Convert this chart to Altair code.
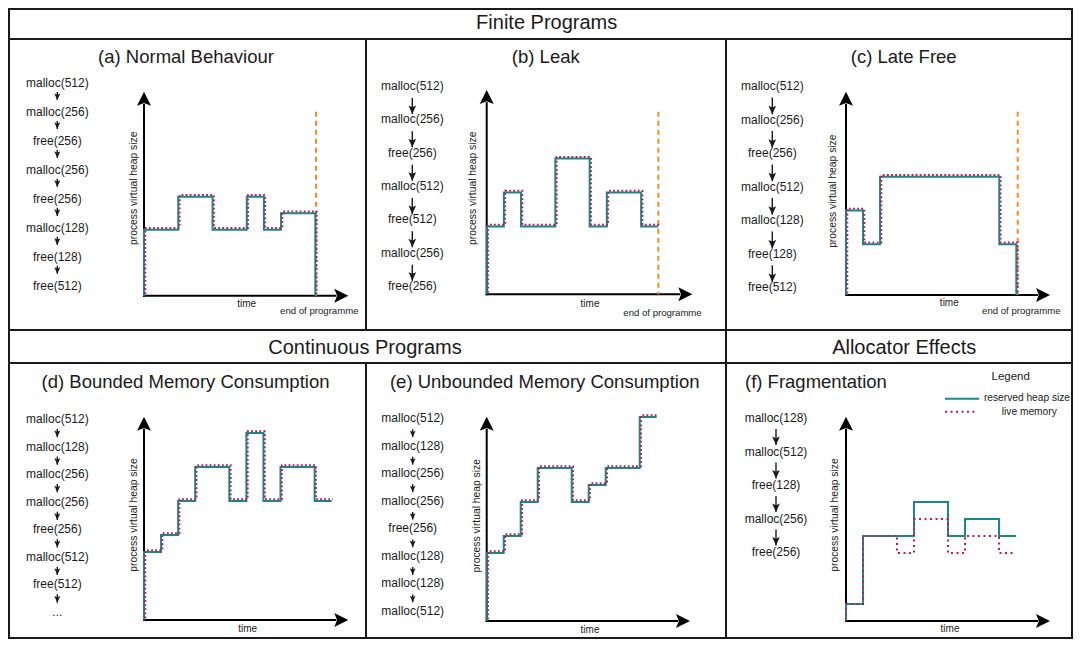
import altair as alt
import pandas as pd

FONT = "Liberation Sans"
INK = "#1a1a1a"
TEAL = "#17898b"
LIVE = "#c0185a"
ORANGE = "#ff8a1c"

# ---------------- data ----------------
header_top = "Finite Programs"
header_cont = "Continuous Programs"
header_alloc = "Allocator Effects"
titles = ["(a) Normal Behaviour", "(b) Leak", "(c) Late Free",
          "(d) Bounded Memory Consumption", "(e) Unbounded Memory Consumption",
          "(f) Fragmentation"]
ylabel_text = "process virtual heap size"
xlabel_text = "time"
end_text = "end of programme"
legend_title = "Legend"
legend_labels = ["reserved heap size", "live memory"]

ops_a = ["malloc(512)", "malloc(256)", "free(256)", "malloc(256)", "free(256)",
         "malloc(128)", "free(128)", "free(512)"]
time_a = [0, 0, 2, 4, 6, 7, 8, 10]
heap_a = [0, 512, 768, 512, 768, 512, 640, 0]

ops_b = ["malloc(512)", "malloc(256)", "free(256)", "malloc(512)", "free(512)",
         "malloc(256)", "free(256)"]
time_b = [0, 0, 1, 2, 4, 6, 7, 9, 10]
heap_b = [0, 512, 768, 512, 1024, 512, 768, 512, 512]

ops_c = ["malloc(512)", "malloc(256)", "free(256)", "malloc(512)", "malloc(128)",
         "free(128)", "free(512)"]
time_c = [0, 0, 1, 2, 9, 10]
heap_c = [0, 640, 384, 896, 384, 0]

ops_d = ["malloc(512)", "malloc(128)", "malloc(256)", "malloc(256)", "free(256)",
         "malloc(512)", "free(512)", "..."]
time_d = [0, 0, 1, 2, 3, 5, 6, 7, 8, 10, 11]
heap_d = [0, 512, 640, 896, 1152, 896, 1408, 896, 1152, 896, 896]

ops_e = ["malloc(512)", "malloc(128)", "malloc(256)", "malloc(256)", "free(256)",
         "malloc(128)", "malloc(128)", "malloc(512)"]
time_e = [0, 0, 1, 2, 3, 5, 6, 7, 9, 10]
heap_e = [0, 512, 640, 896, 1152, 896, 1024, 1152, 1536, 1536]

ops_f = ["malloc(128)", "malloc(512)", "free(128)", "malloc(256)", "free(256)"]
time_f = [0, 0, 1, 4, 6, 7, 9, 10]
reserved_f = [0, 128, 640, 896, 640, 768, 640, 640]
live_time_f = [0, 0, 1, 3, 4, 6, 7, 9, 10]
live_f = [0, 128, 640, 512, 768, 512, 640, 512, 512]

end_of_programme = [10, 10, 10]   # time at which (a), (b), (c) end
heap_max = 1600

# ---------------- shapes ----------------
UP = "M0,0L0.5,1L0,0.8L-0.5,1Z"
RIGHT = "M0,0L-1,-0.5L-0.8,0L-1,0.5Z"
DOWN = "M0,0L-0.45,-1L0,-0.8L0.45,-1Z"


def one():
    return alt.Chart(pd.DataFrame({"k": [0]}))


def label(text, x, y, size, angle=0, align="center", color=INK):
    return alt.Chart(pd.DataFrame({"s": [text]})).mark_text(
        font=FONT, fontSize=size, align=align, baseline="middle", angle=angle,
        color=color).encode(text="s:N", x=alt.value(x), y=alt.value(y))


def oplist(ops, cx, y0, y1, f0, f1, head):
    n = len(ops)
    sc = alt.Scale(domain=[0, n - 1], range=[y0, y1], nice=False, zero=False)
    df = pd.DataFrame({"op": ops, "i": list(range(n))})
    txt = alt.Chart(df).mark_text(font=FONT, fontSize=12, color=INK,
                                  baseline="middle").encode(
        x=alt.value(cx), y=alt.Y("i:Q", scale=sc, axis=None), text="op:N")
    arr = alt.Chart(pd.DataFrame({"i": list(range(n - 1))})).transform_calculate(
        a=f"datum.i + {f0}", b=f"datum.i + {f1}")
    line = arr.mark_rule(color=INK, strokeWidth=1.4).encode(
        x=alt.value(cx), y=alt.Y("a:Q", scale=sc, axis=None), y2="b:Q")
    tip = arr.mark_point(shape=DOWN, filled=True, size=head, color=INK,
                         opacity=1, strokeWidth=0).encode(
        x=alt.value(cx), y=alt.Y("b:Q", scale=sc, axis=None))
    return [txt, line, tip]


def axes(ox, oy, ytip, xtip):
    v = one().mark_rule(color="black", strokeWidth=2).encode(
        x=alt.value(ox), y=alt.value(oy + 1), y2=alt.value(ytip + 12))
    h = one().mark_rule(color="black", strokeWidth=2).encode(
        x=alt.value(ox - 1), x2=alt.value(xtip - 12), y=alt.value(oy))
    up = one().mark_point(shape=UP, filled=True, size=784, color="black",
                          opacity=1, strokeWidth=0).encode(
        x=alt.value(ox), y=alt.value(ytip))
    rt = one().mark_point(shape=RIGHT, filled=True, size=784, color="black",
                          opacity=1, strokeWidth=0).encode(
        x=alt.value(xtip), y=alt.value(oy))
    return [v, h, up, rt]


def steps(times, values, xs, ys, color, dash=None, dx=0.0, dy=0.0):
    df = pd.DataFrame({"t": times, "v": values, "k": list(range(len(times)))})
    mk = dict(interpolate="step-after", color=color, strokeWidth=2,
              xOffset=dx, yOffset=dy)
    if dash:
        mk["strokeDash"] = dash
    return alt.Chart(df).mark_line(**mk).encode(
        x=alt.X("t:Q", scale=xs, axis=None),
        y=alt.Y("v:Q", scale=ys, axis=None),
        order="k:Q")


def scales(tmax, x0, x1, oy, pb):
    xs = alt.Scale(domain=[0, tmax], range=[x0, x1], nice=False, zero=False)
    ys = alt.Scale(domain=[0, heap_max], range=[oy, oy - heap_max * pb],
                   nice=False, zero=False)
    return xs, ys


def panel(g, off):
    X = lambda v: v + off
    layers = [label(g["title"], X(g["tx"]), g["ty"], 18.5, align=g.get("talign", "center"))]
    layers += oplist(g["ops"], X(g["lx"]), g["ly0"], g["ly1"], g["f0"], g["f1"], g["head"])
    layers += axes(X(g["ox"]), g["oy"], g["ytip"], X(g["xtip"]))
    layers.append(label(ylabel_text, X(g["ylx"]), g["yly"], 10.3, angle=270))
    layers.append(label(xlabel_text, X(g["tlx"]), g["tly"], 10))
    xs, ys = scales(g["tmax"], X(g["ox"]), X(g["x1"]), g["oy"], g["pb"])
    if "end" in g:
        orange = alt.Chart(pd.DataFrame({"t": [g["end"]]})).mark_rule(
            color=ORANGE, strokeWidth=2, strokeDash=[5, 4], xOffset=g["eoff"]).encode(
            x=alt.X("t:Q", scale=xs, axis=None), y=alt.value(g["etop"]),
            y2=alt.value(g["oy"]))
        layers.append(orange)
        layers.append(label(end_text, X(g["elx"]), g["ely"], 9.6))
    layers.append(steps(g["t"], g["v"], xs, ys, TEAL))
    layers.append(steps(g.get("lt", g["t"]), g.get("lv", g["v"]), xs, ys, LIVE,
                        dash=g.get("dash", [1.8, 2.3]), dx=g.get("dx", 1.3),
                        dy=g.get("dy", -1.7)))
    for f in g.get("extra", []):
        layers.append(f(off))
    return layers


def divider(x, h):
    return one().mark_rule(color=INK, strokeWidth=2).encode(
        x=alt.value(x), y=alt.value(0), y2=alt.value(h))


W1, W2, W3 = 357, 360, 346
WT = W1 + W2 + W3
H_TOP, H_ROW1, H_MID, H_ROW2 = 30, 291, 33, 275

ga = dict(title=titles[0], tx=177, ty=18.3, ops=ops_a, lx=48.3, ly0=44.3, ly1=247,
          f0=0.3, f1=0.58, head=180, ox=135, oy=256.7, ytip=52.7, xtip=339.3,
          ylx=125, yly=149.3, tlx=237.7, tly=265, tmax=10, x1=306.3, pb=0.129,
          t=time_a, v=heap_a, end=end_of_programme[0], eoff=0.7, etop=72.7,
          elx=310.3, ely=271.7)
gb = dict(title=titles[1], tx=179.8, ty=18, ops=ops_b, lx=46.3, ly0=47, ly1=247,
          f0=0.36, f1=0.84, head=289, ox=120.7, oy=255.3, ytip=51, xtip=326.3,
          ylx=107.3, yly=149.3, tlx=224, tly=265, tmax=10, x1=292.3, pb=0.1325,
          t=time_b, v=heap_b, end=end_of_programme[1], eoff=0, etop=72.7,
          elx=296.5, ely=274.3)
gc = dict(title=titles[2], tx=177.7, ty=18.3, ops=ops_c, lx=46.3, ly0=47, ly1=248.3,
          f0=0.34, f1=0.84, head=289, ox=120, oy=256, ytip=52.7, xtip=324,
          ylx=107.3, yly=152.2, tlx=223.3, tly=264.3, tmax=10, x1=290.3, pb=0.132,
          t=time_c, v=heap_c, end=end_of_programme[2], eoff=1.4, etop=72.7,
          elx=295.3, ely=271.7)
gd = dict(title=titles[3], tx=176.5, ty=18.7, ops=ops_d, lx=48.3, ly0=56, ly1=249,
          f0=0.36, f1=0.66, head=180, ox=135, oy=257, ytip=53.7, xtip=339.3,
          ylx=124.7, yly=152, tlx=238.7, tly=266.3, tmax=11, x1=322.7, pb=0.1328,
          t=time_d, v=heap_d)
ge = dict(title=titles[4], tx=178.7, ty=18.7, ops=ops_e, lx=46.7, ly0=55.3, ly1=248,
          f0=0.4, f1=0.68, head=160, ox=120.7, oy=258, ytip=53.7, xtip=324,
          ylx=110.7, yly=152.8, tlx=224, tly=267, tmax=10, x1=290.7, pb=0.1328,
          t=time_e, v=heap_e)

legend_layers = [
    lambda o: label(legend_title, o + 284.7, 14.3, 11.5),
    lambda o: label(legend_labels[0], o + 344, 35.3, 10.2, align="right"),
    lambda o: label(legend_labels[1], o + 303.3, 48.7, 10.2),
    lambda o: one().mark_rule(color=TEAL, strokeWidth=2).encode(
        x=alt.value(o + 219), x2=alt.value(o + 253), y=alt.value(35.7)),
    lambda o: one().mark_rule(color=LIVE, strokeWidth=2, strokeDash=[2, 3.5]).encode(
        x=alt.value(o + 219), x2=alt.value(o + 252), y=alt.value(48.7)),
]
gf = dict(title=titles[5], tx=19, ty=19.3, talign="left", ops=ops_f, lx=50,
          ly0=55.3, ly1=189.3, f0=0.32, f1=0.8, head=289, ox=120, oy=258,
          ytip=53.7, xtip=324, ylx=109, yly=152, tlx=224, tly=266.3, tmax=10,
          x1=290, pb=0.1328, t=time_f, v=reserved_f, lt=live_time_f, lv=live_f,
          dash=[2, 3.5], dx=0, dy=0, extra=legend_layers)

top_hdr = label(header_top, 537.7, 14.3, 20).properties(width=WT, height=H_TOP)

row1_layers = (panel(ga, 0) + panel(gb, W1) + panel(gc, W1 + W2)
               + [divider(W1, H_ROW1), divider(W1 + W2, H_ROW1)])
row1 = alt.layer(*row1_layers).resolve_scale(x="independent", y="independent").properties(
    width=WT, height=H_ROW1)

mid = alt.layer(
    label(header_cont, 356, 17.7, 20),
    label(header_alloc, W1 + W2 + 178.2, 17.7, 20),
    divider(W1 + W2, H_MID),
).properties(width=WT, height=H_MID)

row2_layers = (panel(gd, 0) + panel(ge, W1) + panel(gf, W1 + W2)
               + [divider(W1, H_ROW2), divider(W1 + W2, H_ROW2)])
row2 = alt.layer(*row2_layers).resolve_scale(x="independent", y="independent").properties(
    width=WT, height=H_ROW2)

chart = alt.vconcat(top_hdr, row1, mid, row2, spacing=0, bounds="flush").properties(
    padding=0, background="white"
).configure_view(stroke=INK, strokeWidth=2)

chart.save("out.html", embed_options={"renderer": "svg", "actions": False})
